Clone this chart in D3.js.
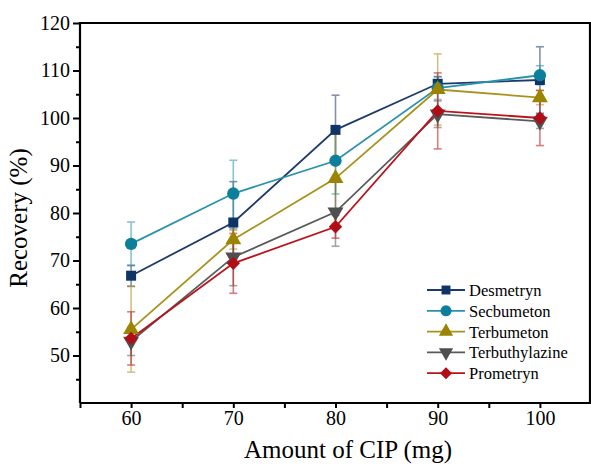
<!DOCTYPE html>
<html>
<head>
<meta charset="utf-8">
<script src="https://cdn.jsdelivr.net/npm/d3@7"></script>
<style>
  body { margin: 0; background: #fff; }
</style>
</head>
<body>
<div id="chart"></div>
<script>
// Data
var amounts = [60, 70, 80, 90, 100];
var seriesNames = ["Desmetryn", "Secbumeton", "Terbumeton", "Terbuthylazine", "Prometryn"];
var desmetryn = [66.8, 78.0, 97.5, 107.2, 108.0];
var desmetrynErr = [2.2, 8.6, 7.3, 1.5, 7.0];
var secbumeton = [73.5, 84.1, 91.0, 106.3, 109.0];
var secbumetonErr = [4.6, 7.0, 7.0, 2.4, 2.0];
var terbumeton = [55.5, 74.4, 87.3, 106.0, 104.3];
var terbumetonErr = [9.0, 2.0, 9.5, 7.5, 1.5];
var terbuthylazine = [53.0, 70.7, 80.2, 100.8, 99.3];
var terbuthylazineErr = [3.0, 6.0, 7.2, 2.8, 1.5];
var prometryn = [53.6, 69.4, 77.1, 101.5, 100.0];
var prometrynErr = [5.6, 6.3, 2.4, 8.0, 5.8];
var yTickLabels = [50, 60, 70, 80, 90, 100, 110, 120];
var xTickLabels = [60, 70, 80, 90, 100];

var svgWidth = 591;
var svgHeight = 466;
var margin = { top: 23, right: 0, bottom: 63, left: 80 };
var width = svgWidth - margin.left - margin.right;
var height = svgHeight - margin.top - margin.bottom;

var serif = "'Liberation Serif', Tinos, 'Times New Roman', Times, 'DejaVu Serif', serif";

var colors = ["#0f3566", "#0e7f9a", "#9a8400", "#4f4f4f", "#b00d16"];
var lineColors = ["#1d3a6a", "#2a93ab", "#a8921e", "#5a5a5a", "#b9141c"];
var shapes = ["square", "circle", "triangle", "triangleDown", "diamond"];

var allValues = [desmetryn, secbumeton, terbumeton, terbuthylazine, prometryn];
var allErrs = [desmetrynErr, secbumetonErr, terbumetonErr, terbuthylazineErr, prometrynErr];

var series = seriesNames.map(function(name, i) {
  return {
    name: name,
    color: colors[i],
    lineColor: lineColors[i],
    shape: shapes[i],
    points: amounts.map(function(a, j) {
      return { x: a, y: allValues[i][j], e: allErrs[i][j] };
    })
  };
});

var svg = d3.select("#chart").append("svg")
  .attr("width", svgWidth)
  .attr("height", svgHeight);

var chartGroup = svg.append("g")
  .attr("transform", `translate(${margin.left}, ${margin.top})`);

var xScale = d3.scaleLinear().domain([55, 105]).range([0, width]);
var yScale = d3.scaleLinear().domain([40, 120]).range([height, 0]);

// marker drawer
function symbolPath(shape, size) {
  if (shape === "circle") return d3.symbol(d3.symbolCircle, size)();
  if (shape === "triangle" || shape === "triangleDown") return d3.symbol(d3.symbolTriangle, size)();
  return d3.symbol(d3.symbolSquare, size)();
}
function symbolRotate(shape) {
  if (shape === "triangleDown") return " rotate(180)";
  if (shape === "diamond") return " rotate(45)";
  return "";
}
var symbolSizes = { square: 100, circle: 120, triangle: 110, triangleDown: 110, diamond: 90 };

// Error bars
series.forEach(function(s) {
  var g = chartGroup.append("g")
    .attr("stroke", s.lineColor)
    .attr("stroke-width", 1.6)
    .attr("opacity", 0.55);
  s.points.forEach(function(p) {
    var cx = xScale(p.x);
    g.append("line")
      .attr("x1", cx).attr("x2", cx)
      .attr("y1", yScale(p.y + p.e)).attr("y2", yScale(p.y - p.e));
    [p.y + p.e, p.y - p.e].forEach(function(v) {
      g.append("line")
        .attr("x1", cx - 4).attr("x2", cx + 4)
        .attr("y1", yScale(v)).attr("y2", yScale(v));
    });
  });
});

// Lines
var line = d3.line().x(d => xScale(d.x)).y(d => yScale(d.y));
series.forEach(function(s) {
  chartGroup.append("path")
    .datum(s.points)
    .attr("fill", "none")
    .attr("stroke", s.lineColor)
    .attr("stroke-width", 1.8)
    .attr("d", line);
});

// Markers
series.forEach(function(s) {
  chartGroup.append("g")
    .selectAll("path")
    .data(s.points)
    .enter()
    .append("path")
    .attr("d", symbolPath(s.shape, symbolSizes[s.shape]))
    .attr("transform", d => `translate(${xScale(d.x)}, ${yScale(d.y)})` + symbolRotate(s.shape))
    .attr("fill", s.color);
});

// Axes
var leftAxis = d3.axisLeft(yScale).tickValues(yTickLabels).tickSize(7).tickPadding(3);
var leftMinor = d3.axisLeft(yScale).tickValues(d3.range(45, 120, 10)).tickSize(4).tickFormat("");
var bottomAxis = d3.axisBottom(xScale).tickValues(xTickLabels).tickSize(5).tickPadding(3);
var bottomMinor = d3.axisBottom(xScale).tickValues([55, 65, 75, 85, 95]).tickSize(5).tickFormat("");

function styleAxis(g) {
  g.attr("font-family", null).attr("font-size", null);
  g.selectAll("path").remove();
  g.selectAll("line").attr("stroke", "#000").attr("stroke-width", 2);
  g.selectAll("text")
    .style("font-family", serif)
    .style("font-size", "20px")
    .attr("fill", "#000");
}

chartGroup.append("g").call(leftMinor).call(styleAxis);
chartGroup.append("g").call(leftAxis).call(styleAxis);
chartGroup.append("g").attr("transform", `translate(0, ${height})`).call(bottomMinor).call(styleAxis);
chartGroup.append("g").attr("transform", `translate(0, ${height})`).call(bottomAxis).call(styleAxis);

// Frame
chartGroup.append("path")
  .attr("d", `M0,${height}V0H${width - 1}V${height}H0`)
  .attr("fill", "none")
  .attr("stroke", "#000")
  .attr("stroke-width", 2.2);

// Axis titles
chartGroup.append("text")
  .attr("transform", "rotate(-90)")
  .attr("x", 0 - height / 2 - 5)
  .attr("y", -53)
  .attr("text-anchor", "middle")
  .style("font-family", serif)
  .style("font-size", "25px")
  .text("Recovery (%)");

chartGroup.append("text")
  .attr("x", 268)
  .attr("y", height + 55)
  .attr("text-anchor", "middle")
  .style("font-family", serif)
  .style("font-size", "25px")
  .text("Amount of CIP (mg)");

// Legend
var legend = chartGroup.append("g")
  .attr("transform", "translate(347, 267)");
series.forEach(function(s, i) {
  var row = legend.append("g").attr("transform", `translate(0, ${i * 20.8})`);
  row.append("line")
    .attr("x1", 0).attr("x2", 38)
    .attr("stroke", s.lineColor)
    .attr("stroke-width", 1.8);
  row.append("path")
    .attr("d", symbolPath(s.shape, symbolSizes[s.shape] * 0.8))
    .attr("transform", "translate(19, 0)" + symbolRotate(s.shape))
    .attr("fill", s.color);
  row.append("text")
    .attr("x", 42)
    .attr("y", 6)
    .style("font-family", serif)
    .style("font-size", "16.5px")
    .text(s.name);
});
</script>
</body>
</html>
